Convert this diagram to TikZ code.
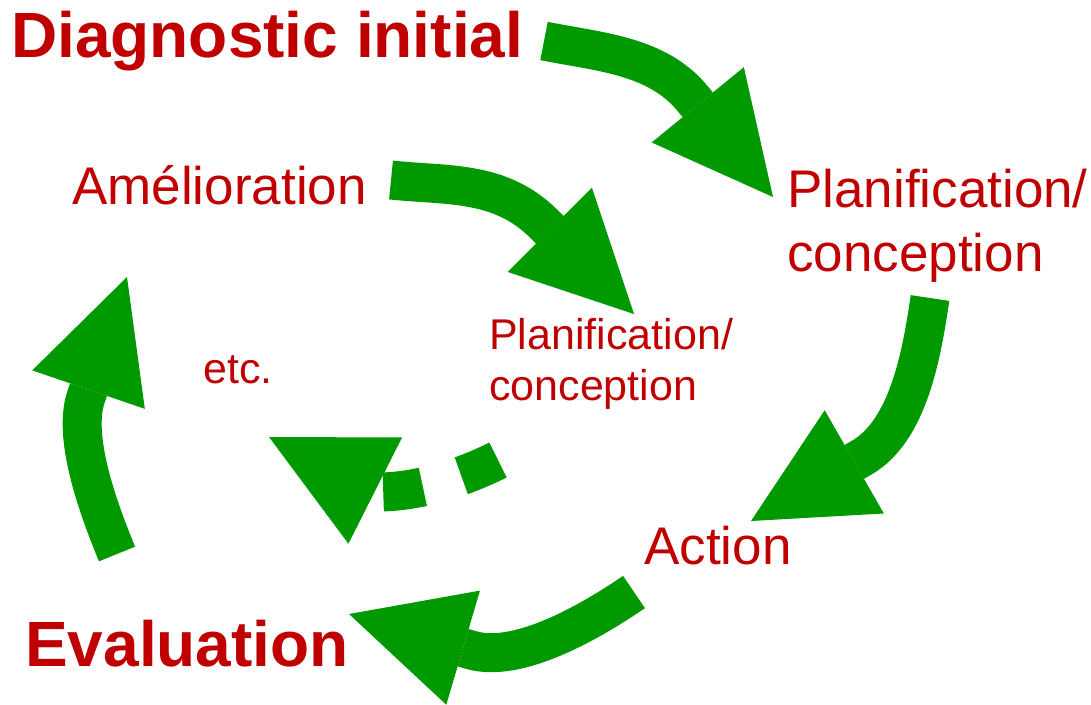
\documentclass[tikz,border=0pt]{standalone}
\usepackage{fontspec}
\setmainfont{Liberation Sans}
\usepackage{tikz}
\usetikzlibrary{arrows.meta}
\definecolor{cycred}{HTML}{C00000}
\definecolor{cycgreen}{HTML}{009900}
\tikzset{
  bigstep/.style={text=cycred, font=\fontsize{64}{70}\selectfont\bfseries, inner sep=0pt, anchor=base west},
  midstep/.style={text=cycred, font=\fontsize{53}{64}\selectfont, inner sep=0pt, anchor=base west, align=left},
  smallstep/.style={text=cycred, font=\fontsize{43}{51}\selectfont, inner sep=0pt, anchor=base west, align=left},
  turn/.style={draw=cycgreen, line width=39pt, -{Triangle[length=119pt, width=119pt, line width=0pt]}},
  turndash/.style={turn, line join=bevel, dash pattern=on 40pt off 40pt}
}

\begin{document}
\begin{tikzpicture}[x=1pt, y=-1pt]
                \useasboundingbox (0,0) rectangle (1091,704);

                % Labels of the steps (multi-line ones sit on their last line)
                \node[bigstep] (diag) at (11,57) {Diagnostic initial};
                \node[midstep] (amel) at (72,204) {Amélioration};
                \node[midstep] (plan) at (787,271) {Planification/\\conception};
                \node[smallstep] (plansm) at (489,400) {Planification/\\conception};
                \node[smallstep] (etc) at (203,383) {etc.};
                \node[midstep] (action) at (644,564) {Action};
                \node[bigstep] (eval) at (25,666) {Evaluation};

                % Ends of the arrows
                \coordinate (fromDiag) at (544,41);   \coordinate (neckA) at (693,99);  \coordinate (toPlan) at (773,197);
                \coordinate (fromAmel) at (391,180);  \coordinate (neckB) at (544,224); \coordinate (toPlansm) at (634,314);
                \coordinate (fromPlan) at (930,298);  \coordinate (neckC) at (861,458); \coordinate (toAction) at (751,521);
                \coordinate (fromAction) at (634,592); \coordinate (neckD) at (471,650); \coordinate (toEval) at (349,614);
                \coordinate (fromEval) at (117,554);  \coordinate (neckE) at (86,397);  \coordinate (toAmel) at (127,277);
                \coordinate (fromPlansm) at (498,460); \coordinate (neckF) at (378,492); \coordinate (toEtc) at (269,437);

                % Arrows of the cycle
                \draw[turn] (fromDiag) .. controls +(55,11) and +(-36,-44) .. (neckA) -- (toPlan);
                \draw[turn] (fromAmel) .. controls +(56,6) and +(-44,-44) .. (neckB) -- (toPlansm);
                \draw[turn] (fromPlan) .. controls +(-8,54) and +(48,-27) .. (neckC) -- (toAction);
                \draw[turn] (fromAction) .. controls +(-41,28) and +(48,14) .. (neckD) -- (toEval);
                \draw[turn] (fromEval) .. controls +(-13,-32) and +(-15,44) .. (neckE) -- (toAmel);
                \draw[turndash] (fromPlansm) .. controls +(-36,18) and +(40,0) .. (neckF) -- (toEtc);

\end{tikzpicture}
\end{document}
